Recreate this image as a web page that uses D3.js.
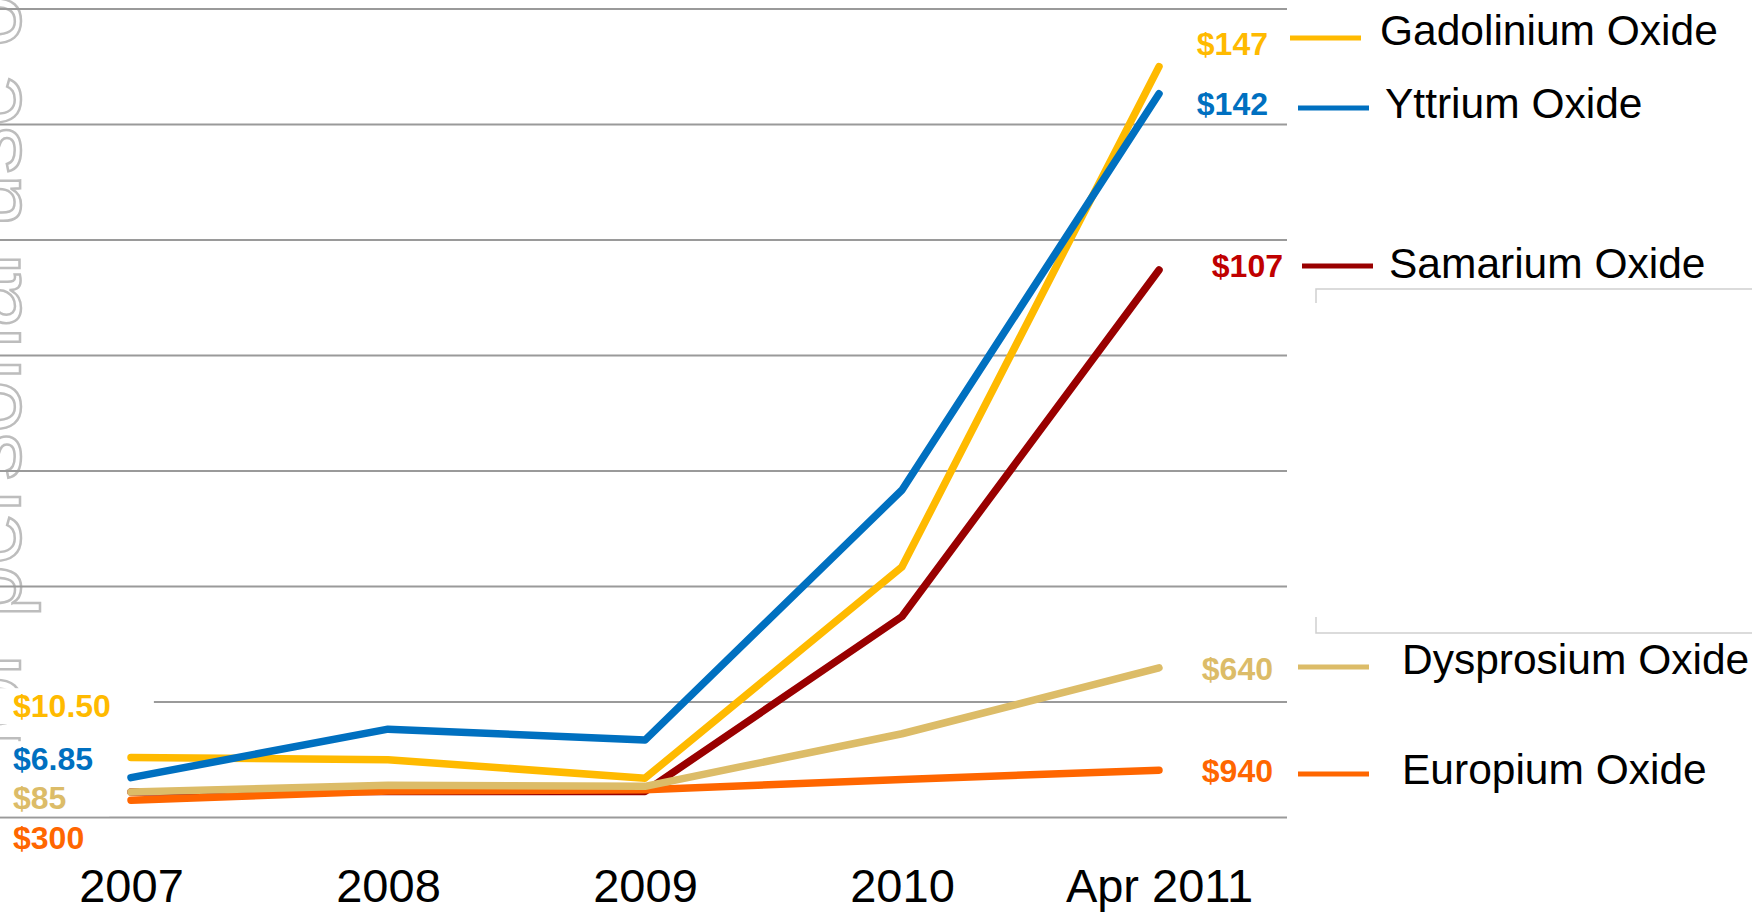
<!DOCTYPE html>
<html>
<head>
<meta charset="utf-8">
<script src="https://cdn.jsdelivr.net/npm/d3@7"></script>
<style>
    body { margin: 0; background: #fff; }
    svg { display: block; font-family: "Liberation Sans", Arial, sans-serif; }
</style>
</head>
<body>
<div id="chart"></div>
<script>
// price index, multiple of the 2007 level
const periods = ["2007", "2008", "2009", "2010", "Apr 2011"];
const seriesNames = ["Samarium Oxide", "Europium Oxide", "Gadolinium Oxide", "Yttrium Oxide", "Dysprosium Oxide"];
const samarium = [0.44, 0.45, 0.45, 3.48, 9.48];
const europium = [0.30, 0.46, 0.48, 0.66, 0.82];
const gadolinium = [1.04, 1.00, 0.68, 4.34, 13.00];
const yttrium = [0.69, 1.53, 1.34, 5.67, 12.53];
const dysprosium = [0.44, 0.56, 0.54, 1.45, 2.59];
const startPrices = ["", "$300", "$10.50", "$6.85", "$85"];
const endPrices = ["$107", "$940", "$147", "$142", "$640"];
const yMax = 14;

const colors = ["#990000", "#ff6600", "#ffba00", "#0070c0", "#dcbc68"];
const labelColors = ["#c00000", "#ff6600", "#ffba00", "#0070c0", "#dcbc68"];

// label placement (text boxes in the original slide)
const layout = {
    "Samarium Oxide": { left: null, right: 266, rightX: 1283, key: 266, keyX: 1302, textX: 1389, textY: 263 },
    "Europium Oxide": { left: 838, right: 771, rightX: 1273, key: 774, keyX: 1298, textX: 1402, textY: 769 },
    "Gadolinium Oxide": { left: 706, right: 44, rightX: 1268, key: 38, keyX: 1290, textX: 1380, textY: 30 },
    "Yttrium Oxide": { left: 759, right: 104, rightX: 1268, key: 108, keyX: 1298, textX: 1385, textY: 103 },
    "Dysprosium Oxide": { left: 798, right: 669, rightX: 1273, key: 667, keyX: 1298, textX: 1402, textY: 659 }
};

const width = 1752, height = 912;
const values = [samarium, europium, gadolinium, yttrium, dysprosium];
const data = seriesNames.map((name, i) => ({
    name: name,
    color: colors[i],
    labelColor: labelColors[i],
    start: startPrices[i],
    end: endPrices[i],
    points: periods.map((p, j) => ({ period: p, value: values[i][j] }))
}));

const xScale = d3.scalePoint()
    .domain(periods)
    .range([131, 1159]);

const yScale = d3.scaleLinear()
    .domain([0, yMax])
    .range([817.5, 8.9]);

const svg = d3.select("#chart")
    .append("svg")
    .attr("width", width)
    .attr("height", height);

// watermark on the left edge
svg.append("text")
    .attr("transform", "translate(20,755) rotate(-90)")
    .attr("font-size", 95)
    .attr("fill", "none")
    .attr("stroke", "#bdbdbd")
    .attr("stroke-width", 2.5)
    .text("for personal use only");

// faint frame bits at the right
svg.append("path")
    .attr("d", "M1316,303V289H1752M1316,617V633H1752")
    .attr("fill", "none")
    .attr("stroke", "#d0d0d0")
    .attr("stroke-width", 1.5);

// grid
svg.append("g")
    .attr("class", "grid")
    .selectAll("line")
    .data(yScale.ticks(7))
    .enter()
    .append("line")
    .attr("x1", 0)
    .attr("x2", 1287)
    .attr("y1", d => yScale(d))
    .attr("y2", d => yScale(d))
    .attr("stroke", "#9a9a9a")
    .attr("stroke-width", 2);

// left price labels sit in white boxes that hide the grid
const leftLabels = svg.append("g").attr("class", "left-labels");

data.filter(d => d.start).forEach(d => {
    const g = leftLabels.append("g");
    const rect = g.append("rect").attr("fill", "#fff");
    const t = g.append("text")
        .attr("x", 13)
        .attr("y", layout[d.name].left)
        .attr("dy", "0.35em")
        .attr("font-size", 32)
        .attr("font-weight", "bold")
        .attr("fill", d.labelColor)
        .text(d.start);
    const bb = t.node().getBBox();
    rect.attr("x", 0)
        .attr("y", bb.y)
        .attr("width", bb.x + bb.width + 43)
        .attr("height", bb.height);
});

// lines
const line = d3.line()
    .x(d => xScale(d.period))
    .y(d => yScale(d.value));

svg.append("g")
    .attr("class", "lines")
    .selectAll("path")
    .data(data)
    .enter()
    .append("path")
    .attr("d", d => line(d.points))
    .attr("fill", "none")
    .attr("stroke", d => d.color)
    .attr("stroke-width", 7.5)
    .attr("stroke-linecap", "round")
    .attr("stroke-linejoin", "round");

// end-of-line prices
svg.append("g")
    .attr("class", "right-labels")
    .selectAll("text")
    .data(data)
    .enter()
    .append("text")
    .attr("x", d => layout[d.name].rightX)
    .attr("y", d => layout[d.name].right)
    .attr("dy", "0.35em")
    .attr("text-anchor", "end")
    .attr("font-size", 32)
    .attr("font-weight", "bold")
    .attr("fill", d => d.labelColor)
    .text(d => d.end);

// legend
const legend = svg.append("g").attr("class", "legend");

legend.selectAll("line")
    .data(data)
    .enter()
    .append("line")
    .attr("x1", d => layout[d.name].keyX)
    .attr("x2", d => layout[d.name].keyX + 71)
    .attr("y1", d => layout[d.name].key)
    .attr("y2", d => layout[d.name].key)
    .attr("stroke", d => d.color)
    .attr("stroke-width", 5);

legend.selectAll("text")
    .data(data)
    .enter()
    .append("text")
    .attr("x", d => layout[d.name].textX)
    .attr("y", d => layout[d.name].textY)
    .attr("dy", "0.35em")
    .attr("font-size", 42.5)
    .attr("fill", "#000")
    .text(d => d.name);

// x axis, labels only
const xAxis = svg.append("g")
    .attr("transform", "translate(0,902)")
    .call(d3.axisBottom(xScale).tickSize(0).tickPadding(0));

xAxis.select(".domain").remove();
xAxis.selectAll("text")
    .attr("dy", 0)
    .attr("font-size", 47)
    .attr("font-family", "Liberation Sans, Arial, sans-serif")
    .attr("fill", "#000");
</script>
</body>
</html>
